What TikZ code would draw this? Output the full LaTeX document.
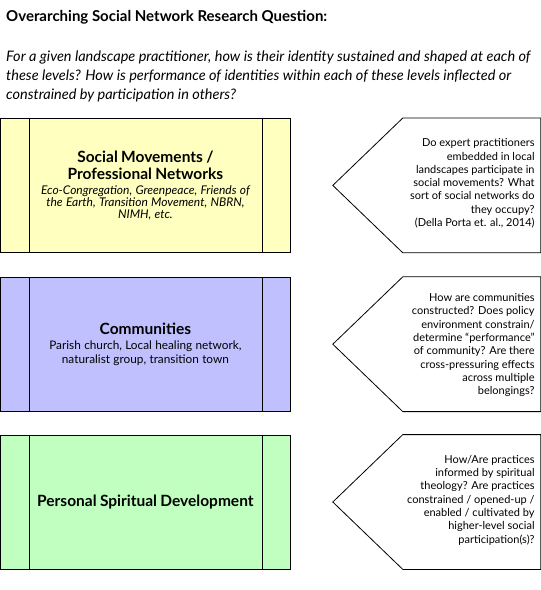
\documentclass[tikz,border=0pt]{standalone}
\usepackage{fontspec}
\setmainfont{Lato}
\usepackage{tikz}
\usetikzlibrary{positioning}

\definecolor{movementsfill}{RGB}{255,255,192}
\definecolor{communityfill}{RGB}{192,192,255}
\definecolor{personalfill}{RGB}{192,255,192}
\newcommand{\levelhead}{\bfseries\fontsize{15.5}{17}\selectfont}

\begin{document}
\begin{tikzpicture}[x=1pt, y=-1pt,
    levelbox/.style={draw, line width=0.8pt, minimum width=290pt, minimum height=134pt,
        text width=232pt, inner sep=0pt, anchor=north west, align=center},
    question/.style={anchor=east, align=right, inner sep=0pt,
        font=\fontsize{11}{13.3}\selectfont},
    pentagon/.style={draw, line width=0.8pt, fill=white}]
    \useasboundingbox (0,0) rectangle (541,590);

    % Overall question
    \node[anchor=base west, inner sep=0pt, font=\bfseries\fontsize{15}{16}\selectfont] (title) at (6,21)
        {Overarching Social Network Research Question:};
    \node[anchor=north west, inner sep=0pt, align=left, font=\itshape\fontsize{14.5}{19}\selectfont] (overview) at (6,51)
        {For a given landscape practitioner, how is their identity sustained and shaped at each of\\
         these levels? How is performance of identities within each of these levels inflected or\\
         constrained by participation in others?};

    % Levels
    \node[levelbox, fill=movementsfill] (movements) at (0,118)
        {{\levelhead Social Movements /\\ Professional Networks\par}\vspace{3pt}
         {\itshape\fontsize{12}{11.8}\selectfont Eco-Congregation, Greenpeace, Friends of\\
          the Earth, Transition Movement, NBRN,\\ NIMH, etc.\par}};
    \node[levelbox, fill=communityfill, below=24pt of movements] (communities)
        {{\levelhead Communities\par}\vspace{2pt}
         {\fontsize{11.8}{13.5}\selectfont Parish church, Local healing network,\\
          naturalist group, transition town\par}};
    \node[levelbox, fill=personalfill, below=23pt of communities] (personal)
        {\levelhead Personal Spiritual Development};

    % Side lines of each box
    \foreach \lvl in {movements, communities, personal} {
        \draw[line width=0.8pt] ([xshift=29pt]\lvl.north west) -- ([xshift=29pt]\lvl.south west);
        \draw[line width=0.8pt] ([xshift=-28pt]\lvl.north east) -- ([xshift=-28pt]\lvl.south east);
        % Pentagon pointing to the level
        \draw[pentagon] ([xshift=112pt]\lvl.north east) -- ([xshift=250pt]\lvl.north east)
            -- ([xshift=250pt]\lvl.south east) -- ([xshift=112pt]\lvl.south east)
            -- ([xshift=42pt]\lvl.east) -- cycle;
    }

    % Questions for each level
    \node[question] (movementsq) at ([xshift=244pt, yshift=2pt]movements.east)
        {Do expert practitioners\\ embedded in local\\ landscapes participate in\\
         social movements? What\\ sort of social networks do\\ they occupy?\\ (Della Porta et. al., 2014)};
    \node[question] (communitiesq) at ([xshift=244pt, yshift=-1pt]communities.east)
        {How are communities\\ constructed? Does policy\\ environment constrain/\\
         determine “performance”\\ of community? Are there\\ cross-pressuring effects\\
         across multiple\\ belongings?};
    \node[question] (personalq) at ([xshift=244pt, yshift=2pt]personal.east)
        {How/Are practices\\ informed by spiritual\\ theology? Are practices\\
         constrained / opened-up /\\ enabled / cultivated by\\ higher-level social\\
         participation(s)?};
\end{tikzpicture}
\end{document}
